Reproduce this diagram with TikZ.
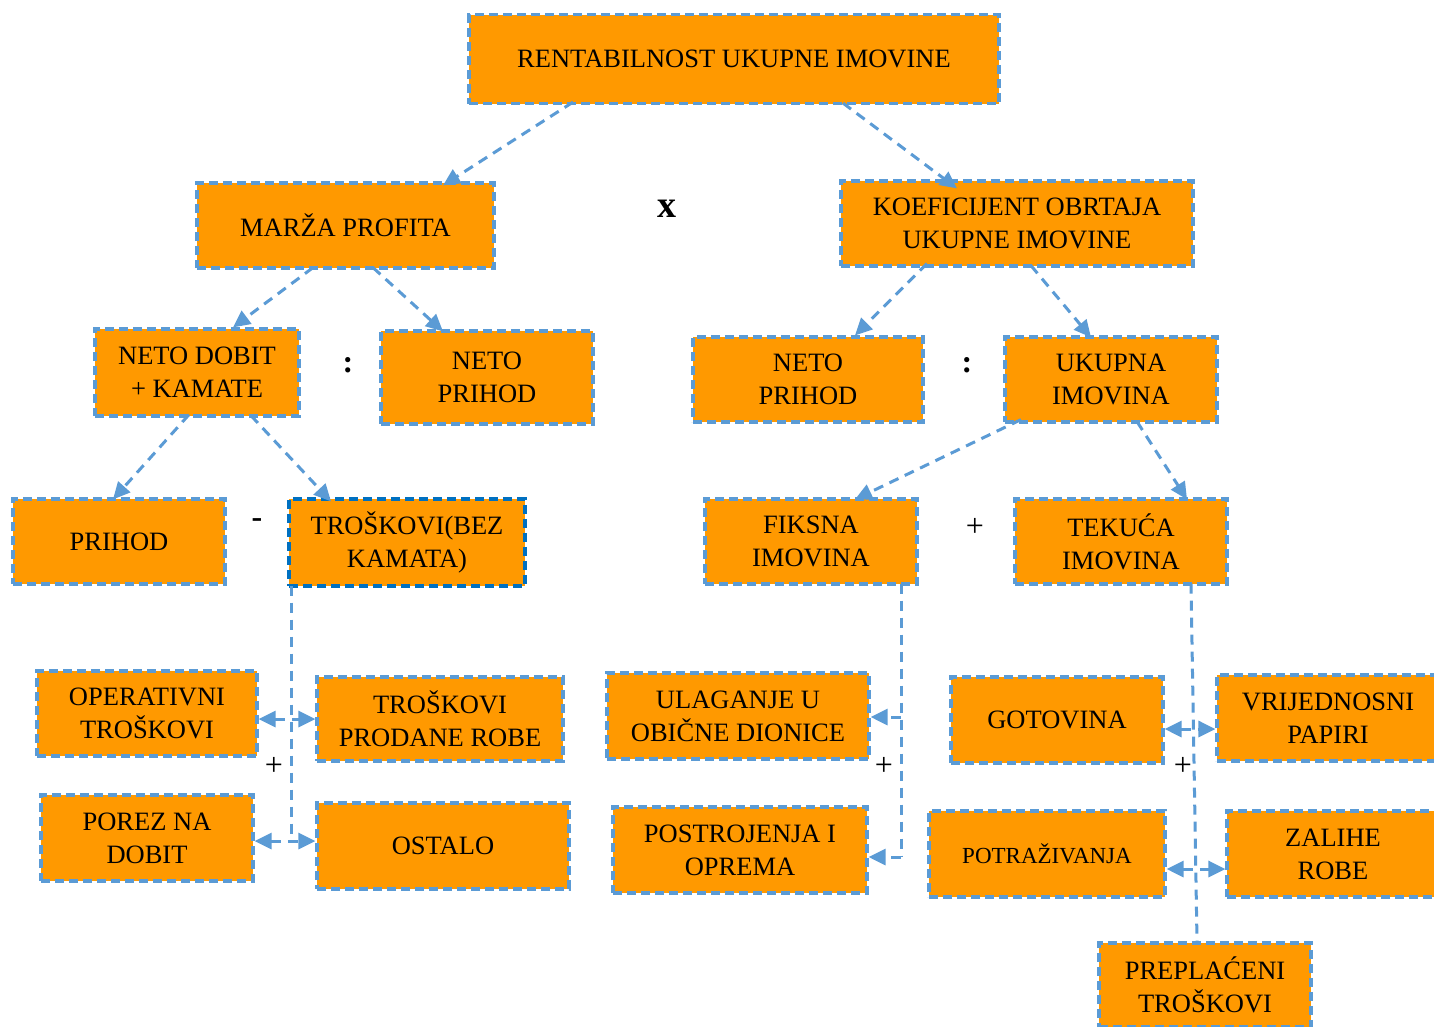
\documentclass[tikz,border=0pt]{standalone}
\usepackage{fontspec}
\setmainfont{Liberation Serif}
\usetikzlibrary{arrows.meta}
\definecolor{boxfill}{HTML}{FF9900}
\definecolor{boxline}{HTML}{5B9BD5}
\definecolor{darkline}{HTML}{0070C0}
\begin{document}
\begin{tikzpicture}[x=1pt,y=-1pt,
  box/.style={draw=boxline, fill=boxfill, line width=3.2pt, dash pattern=on 9pt off 5pt,
    align=center, inner sep=2pt, font=\fontsize{26.5}{33}\selectfont},
  conn/.style={draw=boxline, line width=3pt, dash pattern=on 10pt off 7pt},
  tip/.tip={Triangle[length=17pt,width=16pt]},
  arr/.style={conn, -tip},
  darr/.style={conn, tip-tip},
  sign/.style={font=\fontsize{32}{33}\selectfont, inner sep=0pt},
  bsign/.style={font=\fontsize{32}{33}\selectfont\bfseries, inner sep=0pt}
]
\useasboundingbox (0,0) rectangle (1434,1026);
\fill[white] (0,0) rectangle (1434,1026);

% level 0
\node[box, minimum width=530pt, minimum height=89pt] (top) at (734,59) {RENTABILNOST UKUPNE IMOVINE};
% level 1
\node[box, minimum width=297pt, minimum height=85pt] (marza) at (345.5,225.5) {MARŽA PROFITA};
\node[box, minimum width=352pt, minimum height=85pt] (koef) at (1017,223.5) {KOEFICIJENT OBRTAJA\\UKUPNE IMOVINE};
\node[bsign, font=\fontsize{38}{38}\selectfont\bfseries] (xs) at (667,209) {x};
% level 2
\node[box, minimum width=204pt, minimum height=87pt] (ndk) at (197,372.5) {NETO DOBIT\\+ KAMATE};
\node[box, minimum width=212pt, minimum height=93pt] (np1) at (487,377.5) {NETO\\PRIHOD};
\node[box, minimum width=230pt, minimum height=85pt] (np2) at (808,379.5) {NETO\\PRIHOD};
\node[box, minimum width=212pt, minimum height=85pt] (uim) at (1111,379.5) {UKUPNA\\IMOVINA};
\node[bsign] (c1) at (348,365) {:};
\node[bsign] (c2) at (967,365) {:};
% level 3
\node[box, minimum width=212pt, minimum height=85pt] (prihod) at (119,541.5) {PRIHOD};
\node[box, draw=darkline, minimum width=236pt, minimum height=87pt] (trosk) at (407,542.5) {TROŠKOVI(BEZ\\KAMATA)};
\node[box, minimum width=212pt, minimum height=85pt] (fiks) at (811,541.5) {FIKSNA\\IMOVINA};
\node[box, minimum width=212pt, minimum height=85pt] (tek) at (1121,541.5) {TEKUĆA\\IMOVINA};
\node[bsign] (m1) at (257,523) {-};
\node[sign] (p0) at (975,527) {+};
% level 4
\node[box, minimum width=220pt, minimum height=85pt] (oper) at (147,713.5) {OPERATIVNI\\TROŠKOVI};
\node[box, minimum width=246pt, minimum height=84pt] (prod) at (440,719) {TROŠKOVI\\PRODANE ROBE};
\node[box, minimum width=212pt, minimum height=86pt] (porez) at (147,838) {POREZ NA\\DOBIT};
\node[box, minimum width=252pt, minimum height=86pt] (ostalo) at (443,846) {OSTALO};
\node[box, minimum width=262pt, minimum height=86pt] (ulag) at (738,716) {ULAGANJE U\\OBIČNE DIONICE};
\node[box, minimum width=254pt, minimum height=86pt] (postr) at (740,850) {POSTROJENJA I\\OPREMA};
\node[box, minimum width=212pt, minimum height=86pt] (got) at (1057,720) {GOTOVINA};
\node[box, minimum width=222pt, minimum height=86pt] (vrij) at (1328,718) {VRIJEDNOSNI\\PAPIRI};
\node[box, minimum width=236pt, minimum height=86pt, font=\fontsize{23}{33}\selectfont] (potr) at (1047,854) {POTRAŽIVANJA};
\node[box, minimum width=212pt, minimum height=86pt] (zal) at (1333,854) {ZALIHE\\ROBE};
\node[box, minimum width=212pt, minimum height=84pt] (prepl) at (1205,985) {PREPLAĆENI\\TROŠKOVI};
\node[sign] (p1) at (274,766) {+};
\node[sign] (p2) at (884,766) {+};
\node[sign] (p3) at (1183,766) {+};

% tree connectors
\draw[arr] ([xshift=-161pt,yshift=3pt]top.south) -- ([xshift=97.5pt,yshift=-4pt]marza.north);
\draw[arr] ([xshift=109pt,yshift=2pt]top.south) -- ([xshift=-60pt,yshift=-9pt]koef.north);
\draw[arr] ([xshift=-32.5pt,yshift=2pt]marza.south) -- ([xshift=36pt]ndk.north);
\draw[arr] ([xshift=27.5pt,yshift=2pt]marza.south) -- ([xshift=-44pt,yshift=-2pt]np1.north);
\draw[arr] ([xshift=-90pt,yshift=4pt]koef.south) -- ([xshift=47pt]np2.north);
\draw[arr] ([xshift=14pt,yshift=2pt]koef.south) -- ([xshift=-20pt,yshift=-2pt]uim.north);
\draw[arr] ([xshift=-8pt,yshift=3pt]ndk.south) -- ([xshift=-6pt,yshift=-2pt]prihod.north);
\draw[arr] ([xshift=54pt,yshift=2pt]ndk.south) -- ([xshift=-76pt,yshift=-4pt]trosk.north);
\draw[arr] ([xshift=-90pt,yshift=4pt]uim.south) -- ([xshift=44pt,yshift=-2pt]fiks.north);
\draw[arr] ([xshift=26pt,yshift=2pt]uim.south) -- ([xshift=66pt,yshift=-2pt]tek.north);

% TROSKOVI branch
\coordinate (ta) at ([xshift=-116pt,yshift=2pt]trosk.south);
\coordinate (tb) at (291,719);
\coordinate (tc) at (291,841);
\draw[conn] (ta) -- (tc);
\draw[darr] (oper.east |- tb) -- (prod.west |- tb);
\draw[darr] (porez.east |- tc) -- (ostalo.west |- tc);

% FIKSNA branch
\coordinate (fa) at ([xshift=90pt,yshift=2pt]fiks.south);
\coordinate (fb) at (901,717);
\coordinate (fc) at (901,857);
\draw[conn] (fa) -- (fc);
\draw[arr] (fb) -- (ulag.east |- fb);
\draw[arr] (fc) -- (postr.east |- fc);

% TEKUCA branch
\coordinate (ea) at ([xshift=70pt,yshift=2pt]tek.south);
\coordinate (eb) at ([xshift=-8pt]prepl.north);
\draw[conn] (ea) -- (eb);
\coordinate (e1) at (1193,729);
\coordinate (e2) at (1195,869);
\draw[darr] (got.east |- e1) -- (vrij.west |- e1);
\draw[darr] (potr.east |- e2) -- (zal.west |- e2);
\end{tikzpicture}
\end{document}
